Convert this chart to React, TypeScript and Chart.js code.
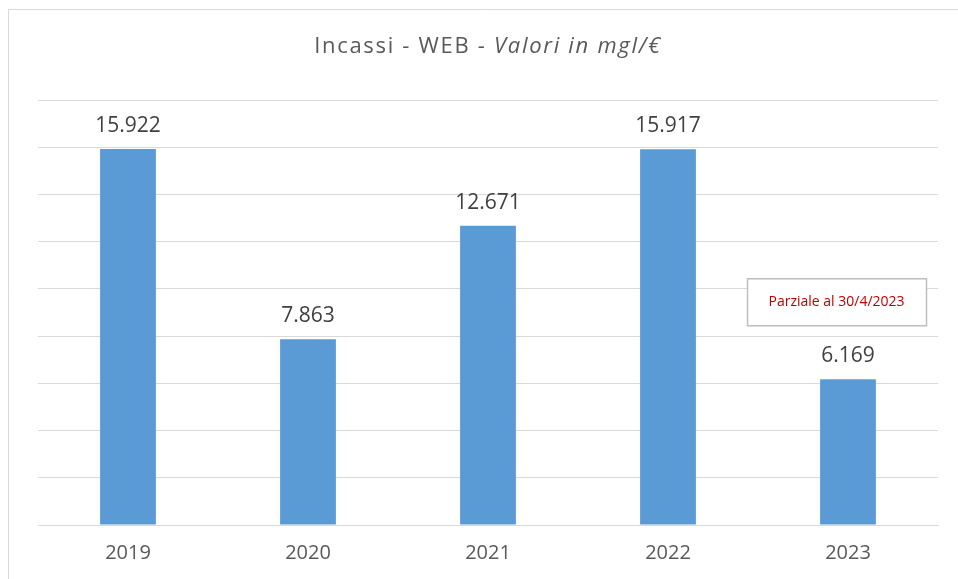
import React, { useEffect, useRef } from "react";
import { Chart, registerables } from "chart.js";

Chart.register(...registerables);

const categories = ["2019", "2020", "2021", "2022", "2023"];
const incassi = [15922, 7863, 12671, 15917, 6169];
const yTicks = [0, 2000, 4000, 6000, 8000, 10000, 12000, 14000, 16000, 18000];
const titleMain = "Incassi - WEB - ";
const titleItalic = "Valori in mgl/€";
const noteText = "Parziale al 30/4/2023";

const FONT = "'Open Sans', 'Noto Sans', sans-serif";

function fmt(v: number): string {
  const s = Math.round(v).toString();
  return s.replace(/\B(?=(\d{3})+(?!\d))/g, ".");
}

const decorPlugin = {
  id: "decor",
  beforeDraw(chart: any) {
    const ctx = chart.ctx;
    ctx.save();
    ctx.fillStyle = "#ffffff";
    ctx.fillRect(0, 0, chart.width, chart.height);
    ctx.strokeStyle = "#d9d9d9";
    ctx.lineWidth = 1;
    ctx.beginPath();
    ctx.moveTo(8.5, chart.height);
    ctx.lineTo(8.5, 9.5);
    ctx.lineTo(chart.width, 9.5);
    ctx.stroke();
    ctx.restore();
  },
  afterDraw(chart: any) {
    const ctx = chart.ctx;
    const area = chart.chartArea;
    ctx.save();
    // title
    const cx = (area.left + area.right) / 2;
    ctx.textBaseline = "middle";
    ctx.fillStyle = "#595959";
    (ctx as any).letterSpacing = "1.7px";
    ctx.font = `22px ${FONT}`;
    const w1 = ctx.measureText(titleMain).width;
    ctx.font = `italic 22px ${FONT}`;
    const w2 = ctx.measureText(titleItalic).width;
    const startX = cx - (w1 + w2) / 2;
    ctx.textAlign = "left";
    ctx.font = `22px ${FONT}`;
    ctx.fillText(titleMain, startX, 47);
    ctx.font = `italic 22px ${FONT}`;
    ctx.fillText(titleItalic, startX + w1, 47);
    (ctx as any).letterSpacing = "0px";

    // data labels
    const meta = chart.getDatasetMeta(0);
    ctx.font = `21px ${FONT}`;
    ctx.fillStyle = "#404040";
    ctx.textAlign = "center";
    ctx.textBaseline = "middle";
    meta.data.forEach((bar: any, i: number) => {
      ctx.fillText(fmt(incassi[i]), bar.x, bar.y - 23);
    });

    // note box
    const xs = chart.scales.x;
    const ys = chart.scales.y;
    const bx = xs.getPixelForValue(4) - 101;
    const by = ys.getPixelForValue(10450);
    const bw = 179;
    const bh = 47;
    ctx.fillStyle = "#ffffff";
    ctx.fillRect(bx, by, bw, bh);
    ctx.strokeStyle = "#bfbfbf";
    ctx.lineWidth = 1.5;
    ctx.strokeRect(bx + 0.5, by + 0.5, bw, bh);
    ctx.fillStyle = "#c00000";
    ctx.font = `14px ${FONT}`;
    ctx.fillText(noteText, bx + bw / 2, by + bh / 2);
    ctx.restore();
  },
};

export default function App() {
  const ref = useRef<HTMLCanvasElement | null>(null);
  useEffect(() => {
    document.body.style.margin = "0";
    if (!ref.current) return;
    const chart = new Chart(ref.current, {
      type: "bar",
      data: {
        labels: categories,
        datasets: [
          {
            data: incassi,
            backgroundColor: "#5b9bd5",
            borderWidth: 0,
            categoryPercentage: 1,
            barPercentage: 0.31,
          },
        ],
      },
      options: {
        animation: false,
        responsive: false,
        layout: { padding: { left: 38, right: 20, top: 100, bottom: -2 } },
        plugins: {
          legend: { display: false },
          title: { display: false },
          tooltip: { enabled: false },
        },
        scales: {
          x: {
            grid: { display: false, drawTicks: false },
            border: { display: true, color: "#d9d9d9" },
            ticks: {
              color: "#595959",
              font: { family: FONT, size: 20 },
              padding: 16,
            },
          },
          y: {
            min: 0,
            max: 18000,
            afterBuildTicks: (axis: any) => {
              axis.ticks = yTicks.map((v) => ({ value: v }));
            },
            ticks: { display: false },
            grid: { color: "#d9d9d9", drawTicks: false },
            border: { display: false },
          },
        },
      },
      plugins: [decorPlugin],
    });
    return () => chart.destroy();
  }, []);
  return (
    <div style={{ width: 958, height: 579 }}>
      <canvas ref={ref} width={958} height={579} style={{ display: "block" }} />
    </div>
  );
}
